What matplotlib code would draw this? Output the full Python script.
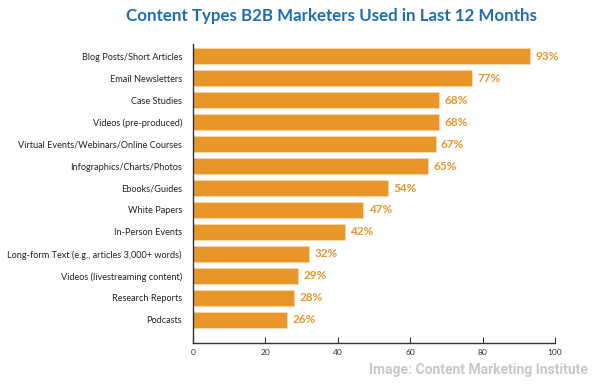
import matplotlib
matplotlib.use("Agg")
import matplotlib.pyplot as plt

categories = [
    "Blog Posts/Short Articles",
    "Email Newsletters",
    "Case Studies",
    "Videos (pre-produced)",
    "Virtual Events/Webinars/Online Courses",
    "Infographics/Charts/Photos",
    "Ebooks/Guides",
    "White Papers",
    "In-Person Events",
    "Long-form Text (e.g., articles 3,000+ words)",
    "Videos (livestreaming content)",
    "Research Reports",
    "Podcasts",
]
values = [93, 77, 68, 68, 67, 65, 54, 47, 42, 32, 29, 28, 26]
xticks = [0, 20, 40, 60, 80, 100]

orange = "#E8952A"
blue = "#1F6DB5"

fig = plt.figure(figsize=(6, 3.84), dpi=100)
ax = fig.add_axes([193/600, 1-343/384, (555-193)/600, (343-44)/384])

y = list(range(len(categories)))
ax.barh(y, values, height=0.72, color=orange, edgecolor="#F6D9B0", linewidth=0.6)
ax.set_ylim(len(categories) - 0.5 + 0.55, -0.55)
ax.set_xlim(0, 100)
ax.set_yticks(y)
ax.set_yticklabels(categories, fontsize=6.6, color="#222222", family="Lato")
ax.tick_params(axis="y", length=0, pad=8)
ax.set_xticks(xticks)
ax.set_xticklabels([str(t) for t in xticks], fontsize=6, color="#333333", family="Lato")
ax.tick_params(axis="x", direction="in", length=4, width=0.8, color="#333333", pad=4)

for v, yy in zip(values, y):
    ax.text(v + 1.5, yy, f"{v}%", va="center", ha="left", fontsize=8.5,
            fontweight="bold", color=orange, family="Lato")

for s in ["top", "right"]:
    ax.spines[s].set_visible(False)
for s in ["left", "bottom"]:
    ax.spines[s].set_color("#333333")
    ax.spines[s].set_linewidth(1.0)

fig.text(331/600, 1-16/384, "Content Types B2B Marketers Used in Last 12 Months",
         ha="center", va="center", fontsize=12.2, fontweight="bold", color=blue,
         family="Lato")
fig.text(588/600, 1-370/384, "Image: Content Marketing Institute",
         ha="right", va="center", fontsize=10, fontweight="bold", color="#C8C8C8",
         family="Roboto")

fig.savefig("out.png", dpi=100)
